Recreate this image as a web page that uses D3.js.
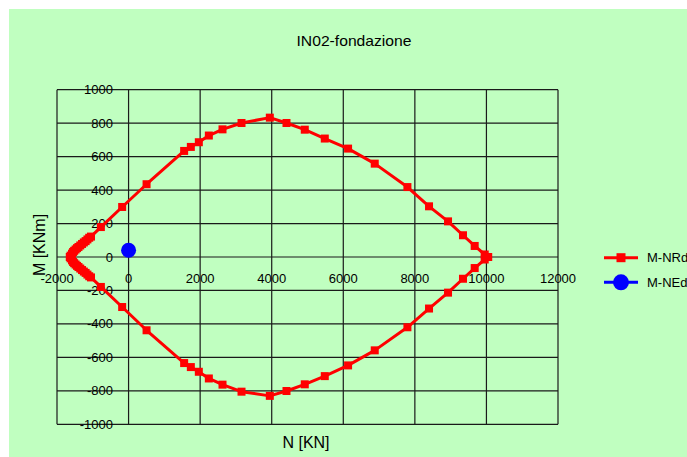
<!DOCTYPE html>
<html>
<head>
<meta charset="utf-8">
<script src="https://cdn.jsdelivr.net/npm/d3@7"></script>
<style>
  html, body { margin: 0; padding: 0; background: #ffffff; }
  svg { display: block; }
  text { font-family: "Liberation Sans", Arial, sans-serif; fill: #000; }
</style>
</head>
<body>
<div id="chart"></div>
<script>
// ---- Data ----
const chartTitle = "IN02-fondazione";
const xLabel = "N [KN]";
const yLabel = "M [KNm]";
const seriesNames = ["M-NRd", "M-NEd"];

// M-NRd interaction domain (closed contour)
const nrdN = [-1640, -1620, -1580, -1550, -1520, -1480, -1440, -1400, -1350, -1300, -1250, -1200, -1150, -1100, -1050, -774, -179, 503, 1553, 1740, 1963, 2243, 2625, 3156, 3947, 4413, 4924, 5483, 6134, 6879, 7792, 8396, 8927, 9345, 9672, 9952, 10050,
              9952, 9672, 9345, 8927, 8396, 7792, 6879, 6134, 5483, 4924, 4413, 3947, 3156, 2625, 2243, 1963, 1740, 1553, 503, -179, -774, -1050, -1100, -1150, -1200, -1250, -1300, -1350, -1400, -1440, -1480, -1520, -1550, -1580, -1620, -1640];
const nrdM = [0, 8, 20, 30, 37, 45, 53, 60, 69, 78, 87, 95, 105, 115, 122, 179, 299, 435, 634, 658, 686, 726, 763, 801, 833, 801, 761, 708, 648, 558, 418, 303, 213, 130, 66, 15, 0,
              -15, -66, -130, -213, -308, -420, -558, -648, -712, -761, -801, -830, -805, -763, -726, -686, -658, -634, -438, -299, -179, -122, -115, -105, -95, -87, -78, -69, -60, -53, -45, -37, -30, -20, -8, 0];

// M-NEd design point
const nedN = [0];
const nedM = [40];

// Axis ticks
const xTicks = [-2000, 0, 2000, 4000, 6000, 8000, 10000, 12000];
const yTicks = [-1000, -800, -600, -400, -200, 0, 200, 400, 600, 800, 1000];

// ---- Drawing ----
const W = 687, H = 457;
const svg = d3.select("#chart").append("svg").attr("width", W).attr("height", H);

svg.append("rect").attr("x", 9).attr("y", 9).attr("width", W - 9).attr("height", H - 9)
  .attr("fill", "#c0ffc0");

const x = d3.scaleLinear().domain([-2000, 12000]).range([57, 558]);
const y = d3.scaleLinear().domain([-1000, 1000]).range([424.3, 89.7]);

const grid = svg.append("g");
grid.selectAll("line.v").data(xTicks).enter().append("line")
  .attr("x1", d => x(d)).attr("x2", d => x(d))
  .attr("y1", y(1000)).attr("y2", y(-1000))
  .attr("stroke", "#1a1a1a").attr("stroke-width", 1.2);
grid.selectAll("line.h").data(yTicks).enter().append("line")
  .attr("x1", x(-2000)).attr("x2", x(12000))
  .attr("y1", d => y(d)).attr("y2", d => y(d))
  .attr("stroke", "#1a1a1a").attr("stroke-width", 1.2);

// y tick labels (right-aligned, centered on gridline)
svg.append("g").selectAll("text").data(yTicks).enter().append("text")
  .attr("x", 113).attr("y", d => y(d))
  .attr("dy", "0.35em")
  .attr("text-anchor", "end")
  .attr("font-size", 13)
  .text(d => d);

// x tick labels
svg.append("g").selectAll("text").data(xTicks).enter().append("text")
  .attr("x", d => x(d)).attr("y", y(0) + 25.5)
  .attr("text-anchor", "middle")
  .attr("font-size", 13)
  .text(d => d);

// M-NRd series
const nrd = nrdN.map((n, i) => ({ n: n, m: nrdM[i] }));
const line = d3.line().x(d => x(d.n)).y(d => y(d.m));
svg.append("path").datum(nrd)
  .attr("d", line).attr("fill", "none")
  .attr("stroke", "#ff0000").attr("stroke-width", 3).attr("stroke-linejoin", "round");
const ms = 8;
svg.append("g").selectAll("rect").data(nrd).enter().append("rect")
  .attr("x", d => x(d.n) - ms / 2).attr("y", d => y(d.m) - ms / 2)
  .attr("width", ms).attr("height", ms).attr("fill", "#ff0000");

// M-NEd series
const ned = nedN.map((n, i) => ({ n: n, m: nedM[i] }));
svg.append("g").selectAll("circle").data(ned).enter().append("circle")
  .attr("cx", d => x(d.n)).attr("cy", d => y(d.m)).attr("r", 7.5)
  .attr("fill", "#0000ff");

// Title
svg.append("text").attr("x", 354).attr("y", 46)
  .attr("text-anchor", "middle").attr("font-size", 15)
  .attr("textLength", 115).attr("lengthAdjust", "spacingAndGlyphs")
  .text(chartTitle);

// Axis titles
svg.append("text").attr("x", 306).attr("y", 448)
  .attr("text-anchor", "middle").attr("font-size", 16)
  .text(xLabel);
svg.append("text")
  .attr("transform", "translate(45,245) rotate(-90)")
  .attr("text-anchor", "middle").attr("font-size", 16)
  .text(yLabel);

// Legend
const leg = svg.append("g");
const legY = [257.7, 282.3];
leg.append("line").attr("x1", 604).attr("x2", 638).attr("y1", legY[0]).attr("y2", legY[0])
  .attr("stroke", "#ff0000").attr("stroke-width", 3);
leg.append("rect").attr("x", 621 - 4.5).attr("y", legY[0] - 4.5).attr("width", 9).attr("height", 9)
  .attr("fill", "#ff0000");
leg.append("line").attr("x1", 604).attr("x2", 638).attr("y1", legY[1]).attr("y2", legY[1])
  .attr("stroke", "#0000ff").attr("stroke-width", 3);
leg.append("circle").attr("cx", 621).attr("cy", legY[1]).attr("r", 8).attr("fill", "#0000ff");
leg.selectAll("text").data(seriesNames).enter().append("text")
  .attr("x", 647).attr("y", (d, i) => legY[i]).attr("dy", "0.35em")
  .attr("font-size", 13)
  .text(d => d);
</script>
</body>
</html>
